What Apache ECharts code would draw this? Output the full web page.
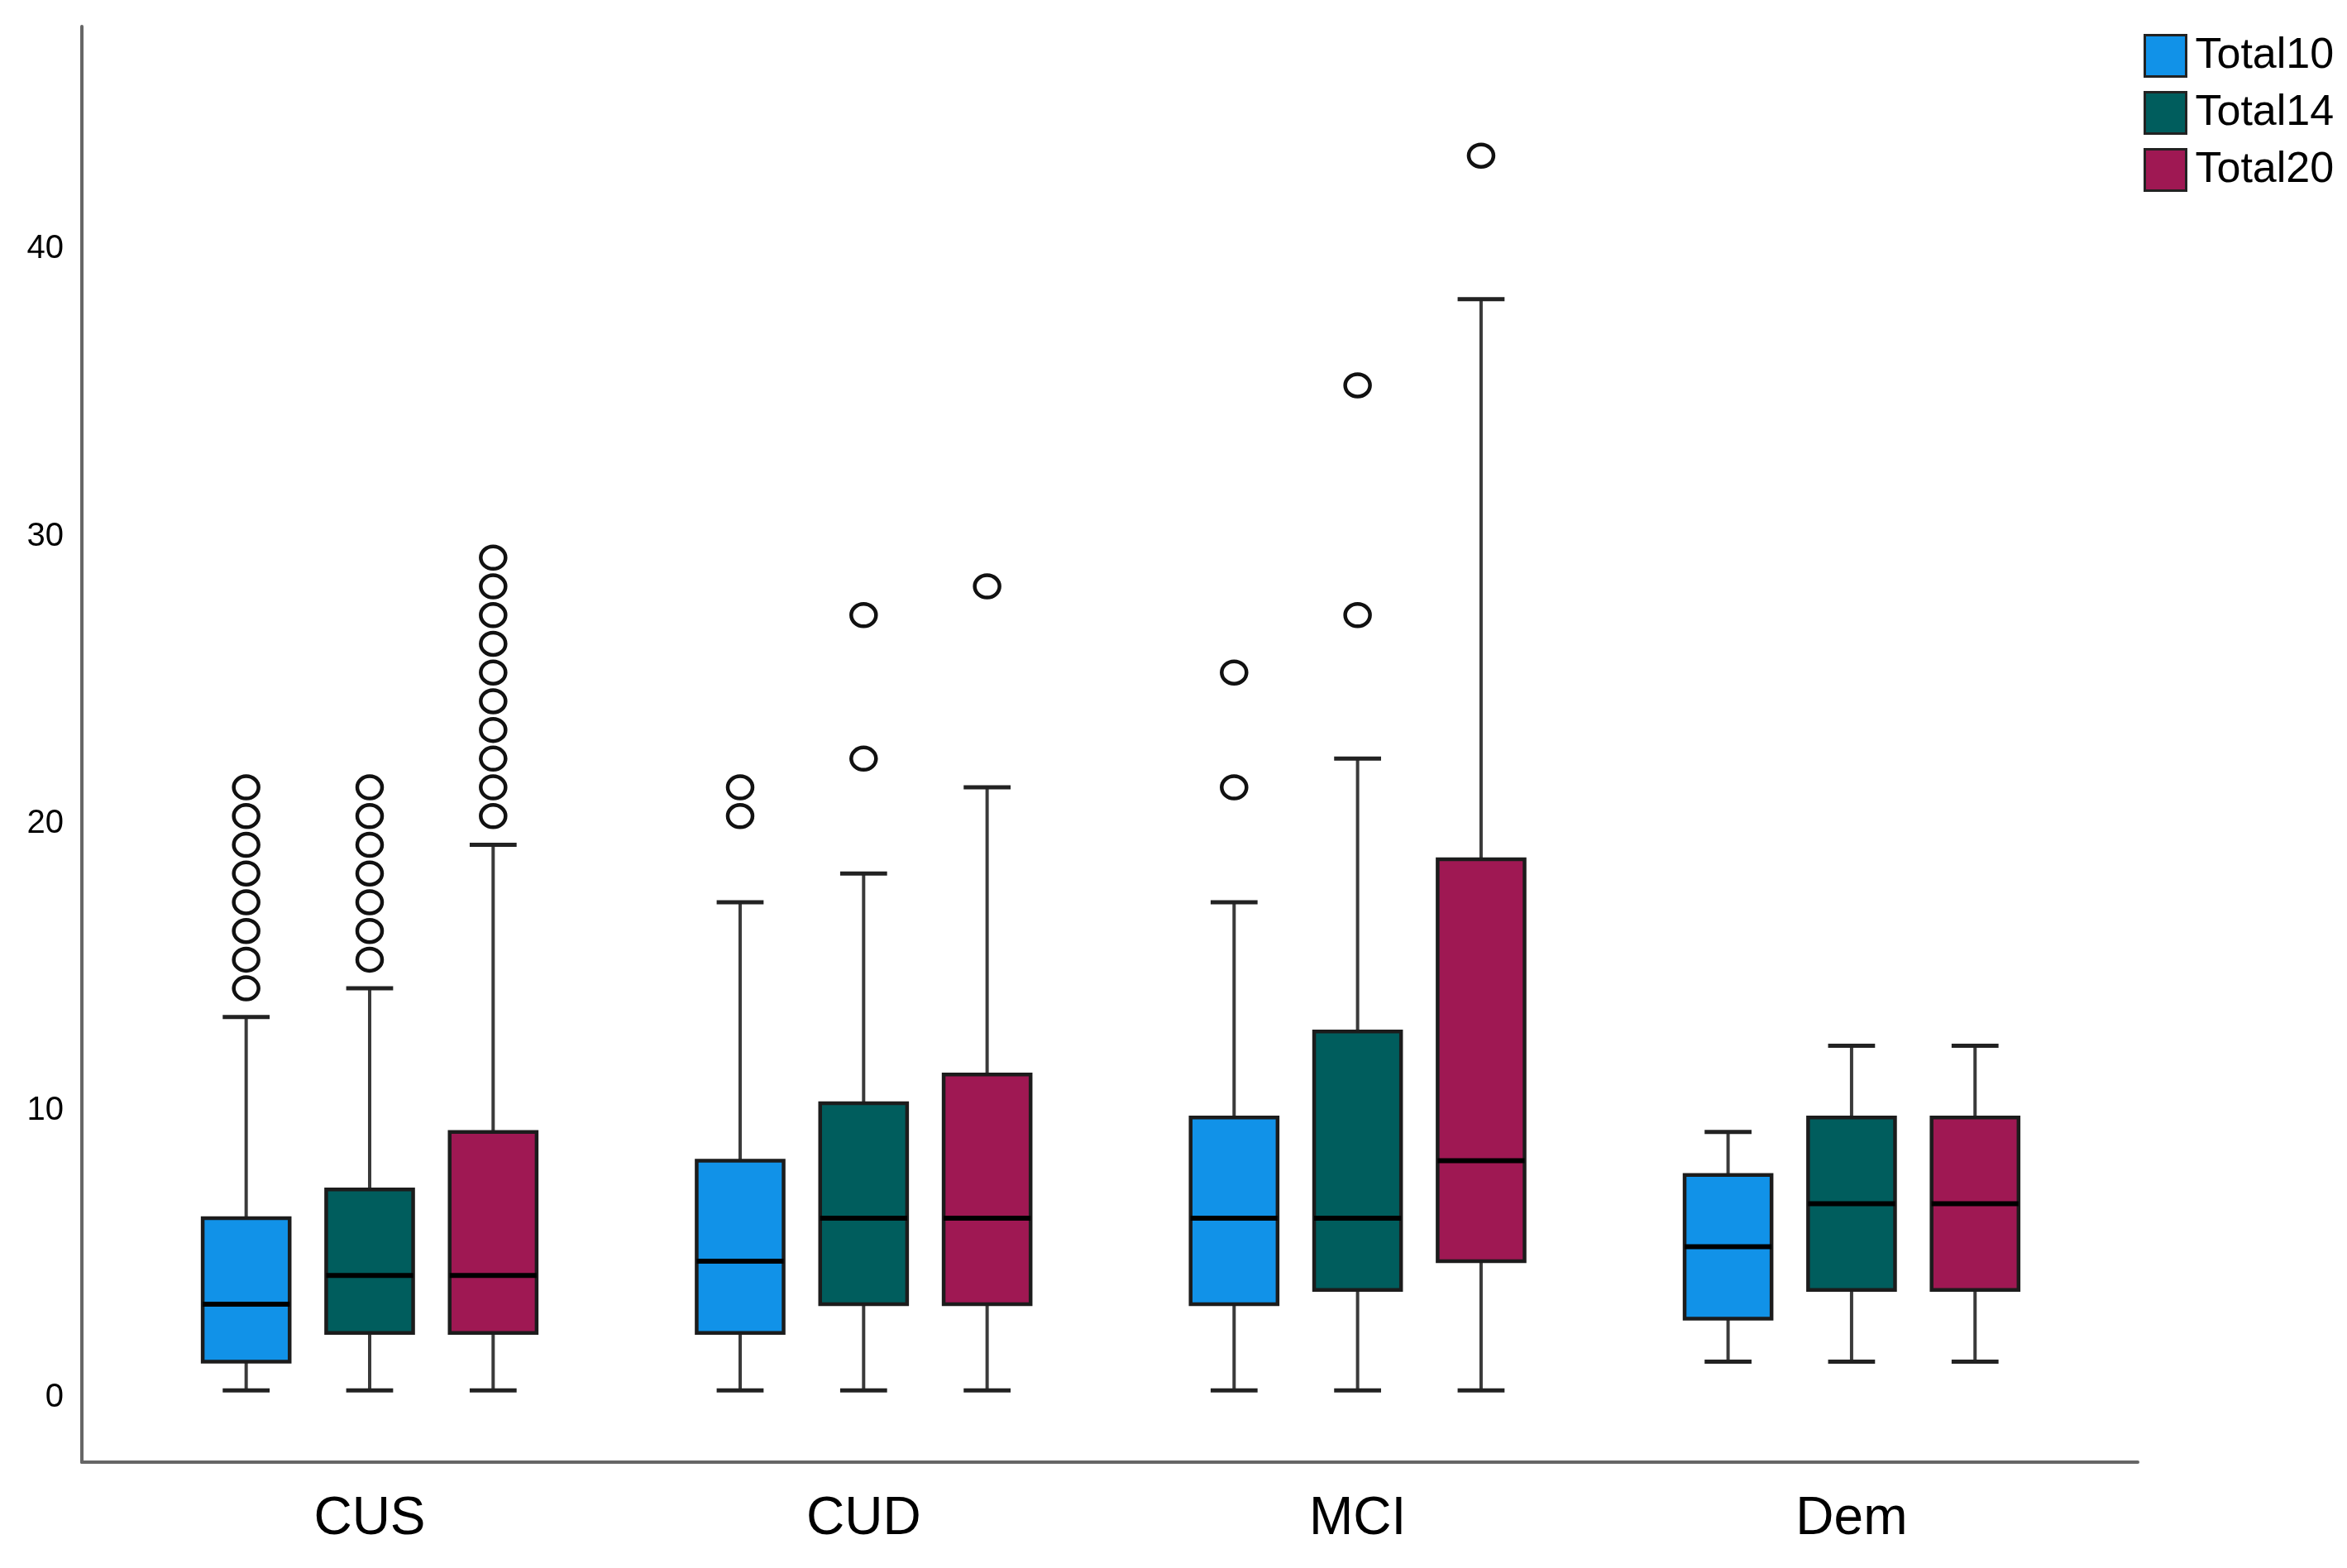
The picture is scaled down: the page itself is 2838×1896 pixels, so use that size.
<!DOCTYPE html>
<html>
<head>
<meta charset="utf-8">
<script src="https://cdn.jsdelivr.net/npm/echarts@6/dist/echarts.min.js"></script>
<style>
  html, body { margin: 0; padding: 0; background: #ffffff; }
  #chart { width: 2838px; height: 1896px; }
</style>
</head>
<body>
<div id="chart"></div>
<script>
// ---- data ----
const categories = ['CUS', 'CUD', 'MCI', 'Dem'];
const seriesNames = ['Total10', 'Total14', 'Total20'];
const yTickValues = [0, 10, 20, 30, 40];

// [lower whisker, Q1, median, Q3, upper whisker] per category
const total10Box = [[0, 1, 3, 6, 13], [0, 2, 4.5, 8, 17], [0, 3, 6, 9.5, 17], [1, 2.5, 5, 7.5, 9]];
const total14Box = [[0, 2, 4, 7, 14], [0, 3, 6, 10, 18], [0, 3.5, 6, 12.5, 22], [1, 3.5, 6.5, 9.5, 12]];
const total20Box = [[0, 2, 4, 9, 19], [0, 3, 6, 11, 21], [0, 4.5, 8, 18.5, 38], [1, 3.5, 6.5, 9.5, 12]];

// outliers per category
const total10Outliers = [[14, 15, 16, 17, 18, 19, 20, 21], [20, 21], [21, 25], []];
const total14Outliers = [[15, 16, 17, 18, 19, 20, 21], [22, 27], [27, 35], []];
const total20Outliers = [[20, 21, 22, 23, 24, 25, 26, 27, 28, 29], [28], [43], []];

const colors = ['#1192e8', '#005d5d', '#9f1853'];

// ---- style constants ----
const BOX_OFFSET = 0.25;   // fraction of category band between neighbouring boxes
const BOX_W = 0.176;       // box width as fraction of band
const CAP_W = 0.095;       // whisker cap width as fraction of band
const FONT = "'Liberation Sans', Arial, Helvetica, sans-serif";

const boxSets = [total10Box, total14Box, total20Box];
const outlierSets = [total10Outliers, total14Outliers, total20Outliers];

function makeBoxRenderer(k, color) {
  return function (params, api) {
    const c = api.value(0);
    const low = api.value(1), q1 = api.value(2), med = api.value(3), q3 = api.value(4), high = api.value(5);
    const band = api.size([1, 0])[0];
    const cx = api.coord([c, 0])[0] + (k - 1) * band * BOX_OFFSET;
    const bw = band * BOX_W;
    const cw = band * CAP_W;
    const y = v => api.coord([c, v])[1];
    const wStyle = { stroke: '#3a3a3a', lineWidth: 4 };
    return {
      type: 'group',
      children: [
        { type: 'line', shape: { x1: cx, y1: y(high), x2: cx, y2: y(q3) }, style: wStyle },
        { type: 'line', shape: { x1: cx, y1: y(q1), x2: cx, y2: y(low) }, style: wStyle },
        { type: 'line', shape: { x1: cx - cw / 2, y1: y(high), x2: cx + cw / 2, y2: y(high) }, style: { stroke: '#222', lineWidth: 5 } },
        { type: 'line', shape: { x1: cx - cw / 2, y1: y(low), x2: cx + cw / 2, y2: y(low) }, style: { stroke: '#222', lineWidth: 5 } },
        { type: 'rect', shape: { x: cx - bw / 2, y: y(q3), width: bw, height: y(q1) - y(q3) },
          style: { fill: color, stroke: '#1c1c1c', lineWidth: 4.5 } },
        { type: 'line', shape: { x1: cx - bw / 2, y1: y(med), x2: cx + bw / 2, y2: y(med) },
          style: { stroke: '#000', lineWidth: 6 } }
      ]
    };
  };
}

function makeOutlierRenderer(k) {
  return function (params, api) {
    const c = api.value(0);
    const v = api.value(1);
    const band = api.size([1, 0])[0];
    const p = api.coord([c, v]);
    const cx = p[0] + (k - 1) * band * BOX_OFFSET;
    return {
      type: 'ellipse',
      shape: { cx: cx, cy: p[1], rx: 15, ry: 13.5 },
      style: { fill: 'transparent', stroke: '#111', lineWidth: 4.5 }
    };
  };
}

const series = [];
seriesNames.forEach((name, k) => {
  series.push({
    name: name,
    type: 'custom',
    renderItem: makeBoxRenderer(k, colors[k]),
    itemStyle: { color: colors[k] },
    encode: { x: 0, y: [1, 2, 3, 4, 5] },
    data: boxSets[k].map((b, i) => [i].concat(b)),
    z: 2
  });
});
seriesNames.forEach((name, k) => {
  const pts = [];
  outlierSets[k].forEach((vals, i) => vals.forEach(v => pts.push([i, v])));
  series.push({
    name: name,
    type: 'custom',
    renderItem: makeOutlierRenderer(k),
    itemStyle: { color: colors[k] },
    encode: { x: 0, y: 1 },
    data: pts,
    z: 3
  });
});

const chart = echarts.init(document.getElementById('chart'), null, { renderer: 'canvas' });
chart.setOption({
  animation: false,
  backgroundColor: '#ffffff',
  grid: { left: 99, right: 253, top: 32, bottom: 128, containLabel: false },
  legend: {
    data: seriesNames,
    orient: 'vertical',
    left: 2592,
    top: 41,
    icon: 'rect',
    itemWidth: 50,
    itemHeight: 50,
    itemGap: 16,
    padding: 0,
    selectedMode: true,
    itemStyle: { borderColor: '#222', borderWidth: 3 },
    textStyle: { fontFamily: FONT, fontSize: 52, color: '#000', padding: [0, 0, 0, 6] }
  },
  xAxis: {
    type: 'value',
    min: -0.5826,
    max: 3.5794,
    splitLine: { show: false },
    axisTick: { show: false },
    axisLine: { show: true, onZero: false, lineStyle: { color: '#666', width: 4 } },
    axisLabel: {
      customValues: [0, 1, 2, 3],
      formatter: v => categories[Math.round(v)] || '',
      fontFamily: FONT,
      fontSize: 64,
      color: '#000',
      margin: 37
    }
  },
  yAxis: {
    type: 'value',
    min: -2.5,
    max: 47.5,
    splitLine: { show: false },
    axisTick: { show: false },
    axisLine: { show: true, onZero: false, lineStyle: { color: '#666', width: 4 } },
    axisLabel: {
      customValues: yTickValues,
      fontFamily: FONT,
      fontSize: 40,
      color: '#000',
      margin: 22,
      verticalAlign: 'top',
      lineHeight: 18
    }
  },
  series: series
});
</script>
</body>
</html>
